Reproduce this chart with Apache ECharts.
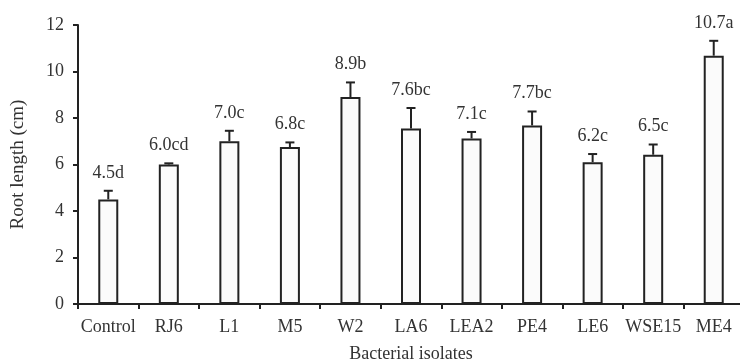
<!DOCTYPE html>
<html>
<head>
<meta charset="utf-8">
<script src="https://cdn.jsdelivr.net/npm/echarts@6/dist/echarts.min.js"></script>
<style>html,body{margin:0;padding:0;background:#fff;}#c{width:740px;height:363px;}</style>
</head>
<body>
<div id="c"></div>
<script>
var categories = ['Control','RJ6','L1','M5','W2','LA6','LEA2','PE4','LE6','WSE15','ME4'];
var means = [4.5, 6.0, 7.0, 6.75, 8.9, 7.55, 7.12, 7.68, 6.1, 6.42, 10.68];
var errors = [0.37, 0.05, 0.45, 0.2, 0.63, 0.88, 0.28, 0.6, 0.35, 0.44, 0.64];
var labels = ['4.5d','6.0cd','7.0c','6.8c','8.9b','7.6bc','7.1c','7.7bc','6.2c','6.5c','10.7a'];
var yTicks = [0, 2, 4, 6, 8, 10, 12];

var FONT = '"Liberation Serif", "Times New Roman", serif';
var INK = '#222';
var TXT = '#333';

var errData = categories.map(function (c, i) { return [i, means[i], errors[i]]; });

var chart = echarts.init(document.getElementById('c'));
chart.setOption({
  animation: false,
  backgroundColor: '#fff',
  grid: { left: 78, top: 25, width: 666, height: 279, containLabel: false, outerBoundsMode: 'none' },
  xAxis: {
    type: 'category',
    data: categories,
    name: 'Bacterial isolates',
    nameLocation: 'middle',
    nameGap: 41,
    nameTextStyle: { fontFamily: FONT, fontSize: 18, color: TXT },
    axisLine: { lineStyle: { color: INK, width: 2 } },
    axisTick: { show: true, interval: 0, length: 5, lineStyle: { color: INK, width: 2 } },
    axisLabel: { interval: 0, fontFamily: FONT, fontSize: 18, color: TXT, margin: 14 }
  },
  yAxis: {
    type: 'value',
    min: yTicks[0],
    max: yTicks[yTicks.length - 1],
    interval: 2,
    name: 'Root length (cm)',
    nameLocation: 'middle',
    nameGap: 50,
    nameTextStyle: { fontFamily: FONT, fontSize: 19, color: TXT },
    splitLine: { show: false },
    axisLine: { show: true, lineStyle: { color: INK, width: 2 } },
    axisTick: { show: true, length: 5, lineStyle: { color: INK, width: 2 } },
    axisLabel: { fontFamily: FONT, fontSize: 18, color: TXT, margin: 14 }
  },
  series: [
    {
      type: 'bar',
      data: means,
      barWidth: 20,
      itemStyle: { color: '#fbfbfb', borderColor: INK, borderWidth: 2 }
    },
    {
      type: 'custom',
      data: errData,
      z: 5,
      clip: false,
      renderItem: function (params, api) {
        var x = api.value(0), m = api.value(1), e = api.value(2);
        var lbl = labels[params.dataIndex];
        var p0 = api.coord([x, m]);
        var p1 = api.coord([x, m + e]);
        return {
          type: 'group',
          children: [
            { type: 'line', shape: { x1: p0[0], y1: p0[1], x2: p1[0], y2: p1[1] }, style: { stroke: INK, lineWidth: 2 } },
            { type: 'line', shape: { x1: p1[0] - 4.5, y1: p1[1], x2: p1[0] + 4.5, y2: p1[1] }, style: { stroke: INK, lineWidth: 2 } },
            { type: 'text', x: p1[0], y: p1[1] - 18, style: { text: lbl, fontFamily: FONT, fontSize: 18, fill: TXT, align: 'center', verticalAlign: 'middle' } }
          ]
        };
      }
    }
  ]
});
</script>
</body>
</html>
